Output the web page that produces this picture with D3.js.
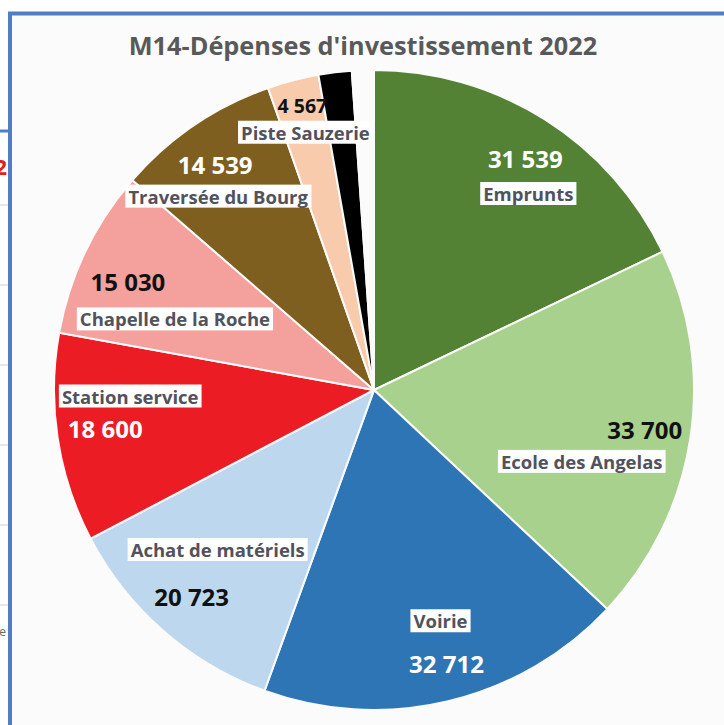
<!DOCTYPE html>
<html>
<head>
<meta charset="utf-8">
<script src="https://cdn.jsdelivr.net/npm/d3@7"></script>
<style>
  body { margin: 0; background: #fff; }
  svg { display: block; }
  text { font-family: "Open Sans", sans-serif; }
</style>
</head>
<body>
<svg id="chart"></svg>
<script>
// data (black slice and white gap are unlabelled)
const categories = ["Emprunts", "Ecole des Angelas", "Voirie", "Achat de matériels",
  "Station service", "Chapelle de la Roche", "Traversée du Bourg", "Piste Sauzerie", "", ""];
const values = [31539, 33700, 32712, 20723, 18600, 15030, 14539, 4567, 2950, 1950];
const valueLabels = ["31 539", "33 700", "32 712", "20 723", "18 600", "15 030", "14 539", "4 567", "", ""];
const colors = ["#548235", "#a9d18e", "#2e75b6", "#bdd7ee", "#ec1c24", "#f4a09c",
  "#7f5f1f", "#f8cbad", "#000000", "#fbfbfb"];
const valueColors = ["#ffffff", "#111111", "#ffffff", "#111111", "#ffffff", "#111111",
  "#ffffff", "#111111", "", ""];

// label placement, relative to each slice centroid [value dx, dy, name dx, dy]
const labelOffsets = [
  [49, -68, 52, -33],
  [81, 11, 18, 43],
  [28, 88, 22, 45],
  [-56, 63, -30, 16],
  [-79, 11, -54, -22],
  [-73, -24, -26, 13],
  [-51, -66, -48, -34],
  [-23, -98, -20, -71]
];
const valueSizes = [24, 24, 24, 24, 24, 24, 24, 19.5];

const width = 724, height = 725;
const cx = 374, cy = 390, radius = 320;

const svg = d3.select("#chart").attr("width", width).attr("height", height);

// spreadsheet fragments visible left of the chart frame
const sheetLines = [205, 285, 365, 445, 525, 605];
svg.selectAll(".sheet").data(sheetLines).enter().append("line")
  .attr("x1", 0).attr("x2", 9).attr("y1", d => d).attr("y2", d => d)
  .attr("stroke", "#d0d0d0").attr("stroke-width", 1);
svg.append("text").attr("x", 7).attr("y", 175).attr("text-anchor", "end")
  .attr("fill", "#e02020").attr("font-weight", "bold").attr("font-size", 22).text("2");
svg.append("text").attr("x", 6).attr("y", 636).attr("text-anchor", "end")
  .attr("fill", "#666").attr("font-size", 12).text("e");
svg.append("line").attr("x1", 0).attr("x2", 10).attr("y1", 131).attr("y2", 131)
  .attr("stroke", "#4f7ec4").attr("stroke-width", 3);

// chart area and its frame
svg.append("rect").attr("x", 11).attr("y", 15).attr("width", width).attr("height", height)
  .attr("fill", "#fbfbfb");
svg.append("path")
  .attr("d", d3.line()([[10, height], [10, 13.5], [width, 13.5]]))
  .attr("fill", "none").attr("stroke", "#4f7ec4").attr("stroke-width", 4);

svg.append("text")
  .attr("x", 363).attr("y", 55)
  .attr("text-anchor", "middle")
  .attr("font-size", 25.3).attr("font-weight", "bold")
  .attr("fill", "#595959")
  .text("M14-Dépenses d'investissement 2022");

const pie = d3.pie().sort(null).value(d => d.v);
const arc = d3.arc().innerRadius(0).outerRadius(radius);
const labelArc = d3.arc().innerRadius(radius * 0.6).outerRadius(radius * 0.6);

const slices = pie(values.map((v, i) => ({ v: v, i: i })));

const g = svg.append("g").attr("transform", `translate(${cx},${cy})`);

g.selectAll("path.slice").data(slices).enter().append("path")
  .attr("class", "slice")
  .attr("d", arc)
  .attr("fill", d => colors[d.data.i])
  .attr("stroke", "#fbfbfb").attr("stroke-width", 2);

const labels = g.selectAll("g.lab").data(slices.filter(d => categories[d.data.i] !== ""))
  .enter().append("g").attr("class", "lab");

labels.each(function(d) {
  const i = d.data.i;
  const c = labelArc.centroid(d);
  const off = labelOffsets[i];
  const sel = d3.select(this);

  // category name with a white box behind it
  const name = sel.append("text")
    .attr("x", c[0] + off[2]).attr("y", c[1] + off[3])
    .attr("text-anchor", "middle").attr("dy", "0.35em")
    .attr("font-size", 18.5).attr("font-weight", "bold")
    .attr("fill", "#52525c")
    .text(categories[i]);
  const bb = name.node().getBBox();
  sel.insert("rect", "text")
    .attr("x", bb.x - 3).attr("y", bb.y + 1)
    .attr("width", bb.width + 6).attr("height", bb.height - 2)
    .attr("fill", "#ffffff");

  sel.append("text")
    .attr("x", c[0] + off[0]).attr("y", c[1] + off[1])
    .attr("text-anchor", "middle").attr("dy", "0.35em")
    .attr("font-size", valueSizes[i]).attr("font-weight", "bold")
    .attr("fill", valueColors[i])
    .text(valueLabels[i]);
});
</script>
</body>
</html>
